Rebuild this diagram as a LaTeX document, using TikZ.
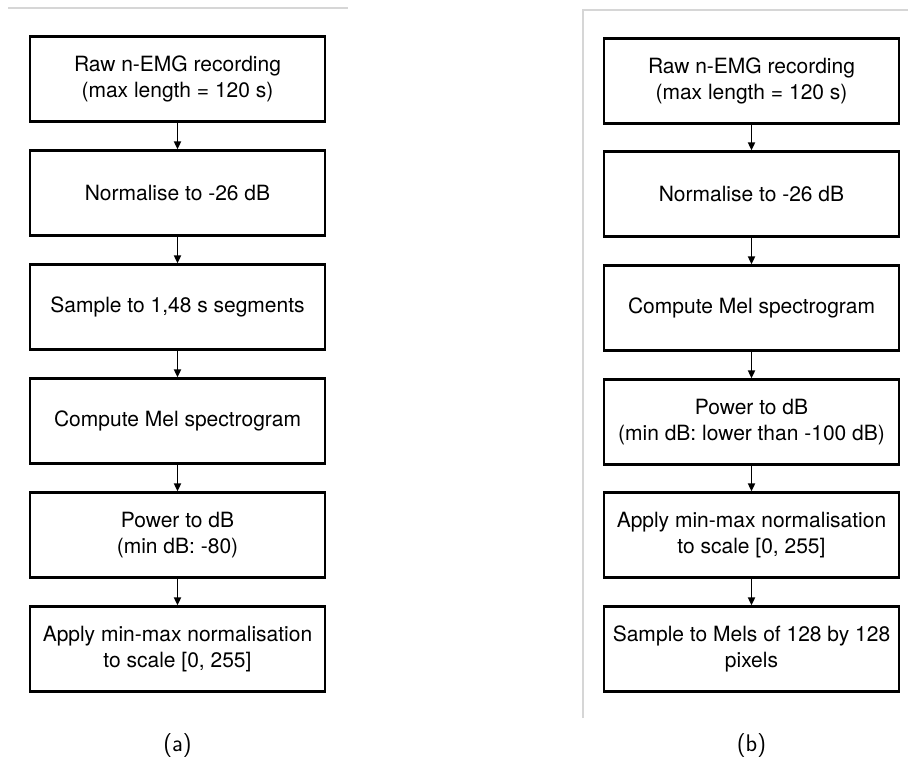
\documentclass[tikz,border=0pt]{standalone}
\usepackage{fontspec}
\setmainfont{TeX Gyre Heros}
\usetikzlibrary{arrows.meta}
\definecolor{rule}{HTML}{D6D6D6}
\tikzset{
  stepbox/.style={draw=black, line width=2.2pt, minimum width=295pt, minimum height=85pt,
    inner sep=0pt, align=center, font=\fontsize{21}{26}\selectfont},
  flow/.style={line width=1.7pt, -{Triangle[length=8pt,width=7pt]}},
  sepline/.style={draw=rule, line width=1.2pt},
  subcap/.style={font=\sffamily\fontsize{24}{28}\selectfont}
}
\begin{document}
\begin{tikzpicture}[x=1pt,y=-1pt]
\useasboundingbox (0,0) rectangle (908,765);
% separators
\draw[sepline] (8,8) -- (348,8);
\draw[sepline] (583,718) -- (583,10) -- (908,10);
% left column
\node[stepbox] (a1) at (177.5,79) {Raw n-EMG recording\\(max length = 120 s)};
\node[stepbox] (a2) at (177.5,193) {Normalise to -26 dB};
\node[stepbox] (a3) at (177.5,307) {Sample to 1,48 s segments};
\node[stepbox] (a4) at (177.5,421) {Compute Mel spectrogram};
\node[stepbox] (a5) at (177.5,535) {Power to dB\\(min dB: -80)};
\node[stepbox] (a6) at (177.5,649) {Apply min-max normalisation\\to scale [0, 255]};
\foreach \i/\j in {a1/a2,a2/a3,a3/a4,a4/a5,a5/a6} \draw[flow] (\i) -- (\j);
% right column
\node[stepbox] (b1) at (751.5,81) {Raw n-EMG recording\\(max length = 120 s)};
\node[stepbox] (b2) at (751.5,194) {Normalise to -26 dB};
\node[stepbox] (b3) at (751.5,308) {Compute Mel spectrogram};
\node[stepbox] (b4) at (751.5,422) {Power to dB\\(min dB: lower than -100 dB)};
\node[stepbox] (b5) at (751.5,535) {Apply min-max normalisation\\to scale [0, 255]};
\node[stepbox] (b6) at (751.5,649) {Sample to Mels of 128 by 128\\pixels};
\foreach \i/\j in {b1/b2,b2/b3,b3/b4,b4/b5,b5/b6} \draw[flow] (\i) -- (\j);
% captions
\node[subcap] (capa) at (177.5,746) {(a)};
\node[subcap] (capb) at (751.5,746) {(b)};
\end{tikzpicture}
\end{document}
